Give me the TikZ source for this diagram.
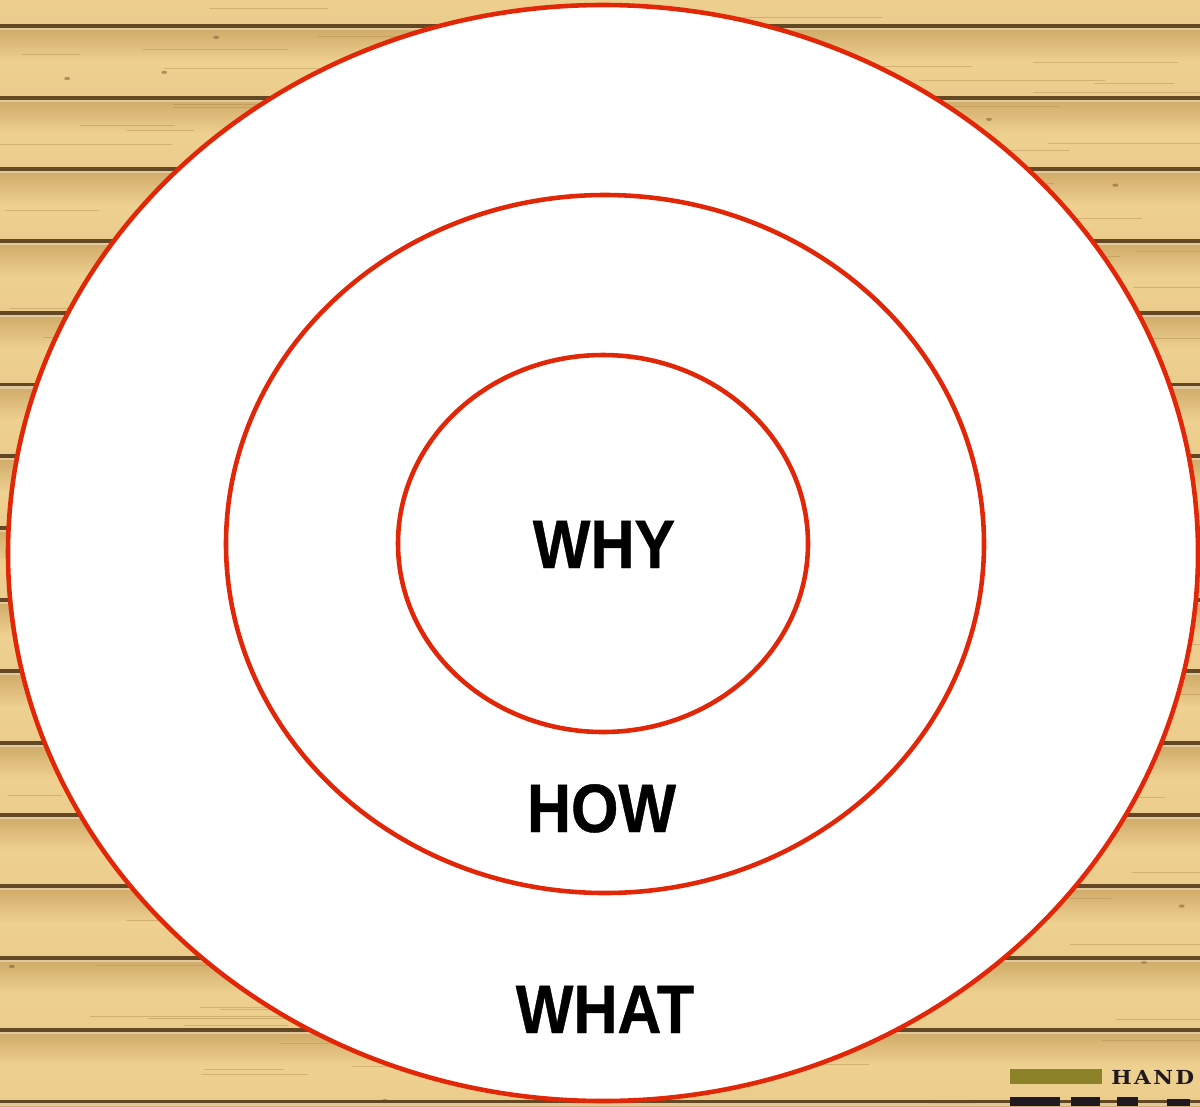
\documentclass[tikz,border=0pt]{standalone}
\usepackage{fontspec}
\setmainfont{Liberation Sans}
\newfontfamily\labelfont[FakeStretch=0.89,FakeBold=0.6]{Liberation Sans}
\newfontfamily\logofont[FakeStretch=1.12,LetterSpace=12]{DejaVu Serif Bold}
\definecolor{ringred}{RGB}{226,38,8}
\definecolor{woodlight}{RGB}{238,208,144}
\definecolor{wooddark}{RGB}{206,168,102}
\definecolor{seam}{RGB}{100,72,36}
\definecolor{grain}{RGB}{170,132,72}
\definecolor{olive}{RGB}{140,130,42}
\definecolor{logoink}{RGB}{32,26,32}
\tikzset{
  ring/.style={draw=ringred, line width=2.6pt, fill=white},
  wordlabel/.style={font=\labelfont\bfseries\fontsize{39}{39}\selectfont, text=black, anchor=base, inner sep=0pt},
  seamline/.style={draw=seam, line width=2.2pt},
  seamlight/.style={draw=white, opacity=0.35, line width=1.2pt},
  grainline/.style={draw=grain, opacity=0.4, line width=0.5pt}
}
\begin{document}
\begin{tikzpicture}[x=0.02cm, y=-0.02cm]
\useasboundingbox (0,0) rectangle (1200,1106);
\clip (0,0) rectangle (1200,1106);
% wood planks
\foreach \i in {-1,...,15} {
  \pgfmathsetmacro{\ya}{26+71.7*\i}
  \pgfmathsetmacro{\yb}{26+71.7*(\i+1)}
  \shade[top color=wooddark, bottom color=woodlight!90!wooddark, middle color=woodlight]
    (0,\ya) rectangle (1200,\yb);
}
% grain
\pgfmathsetseed{7}
\foreach \k in {1,...,180} {
  \pgfmathsetmacro{\gx}{rnd*1150}
  \pgfmathsetmacro{\gy}{rnd*1106}
  \pgfmathsetmacro{\gl}{40+rnd*160}
  \draw[grainline] (\gx,\gy) -- ++(\gl,0);
}
\foreach \k in {1,...,40} {
  \pgfmathsetmacro{\kx}{rnd*1190}
  \pgfmathsetmacro{\ky}{rnd*1106}
  \fill[seam, opacity=0.45] (\kx,\ky) ellipse [x radius=3, y radius=1.6];
}
% seams
\foreach \i in {0,...,15} {
  \pgfmathsetmacro{\ys}{26+71.7*\i}
  \draw[seamline] (0,\ys) -- (1200,\ys);
  \draw[seamlight] (0,\ys+3) -- (1200,\ys+3);
}
% logo fragment bottom right
\fill[olive] (1010,1069) rectangle (1102,1084);
\node[font=\logofont\fontsize{11}{11}\selectfont, text=logoink, anchor=base west, inner sep=0pt] (logo) at (1111,1084) {HAND};
\fill[logoink] (1010,1097) rectangle (1060,1106);
\fill[logoink] (1071,1097) rectangle (1100,1106);
\fill[logoink] (1117,1097) rectangle (1138,1106);
\fill[logoink] (1167,1099) rectangle (1190,1106);
% rings
\draw[ring] (603,553) ellipse [x radius=595, y radius=548];
\draw[ring] (605,544) ellipse [x radius=379, y radius=349];
\draw[ring] (603,543.5) ellipse [x radius=205, y radius=188.5];
% labels
\node[wordlabel] (why) at (604,568) {WHY};
\node[wordlabel] (how) at (601.5,832) {HOW};
\node[wordlabel] (what) at (605,1033) {WHAT};
\end{tikzpicture}
\end{document}
